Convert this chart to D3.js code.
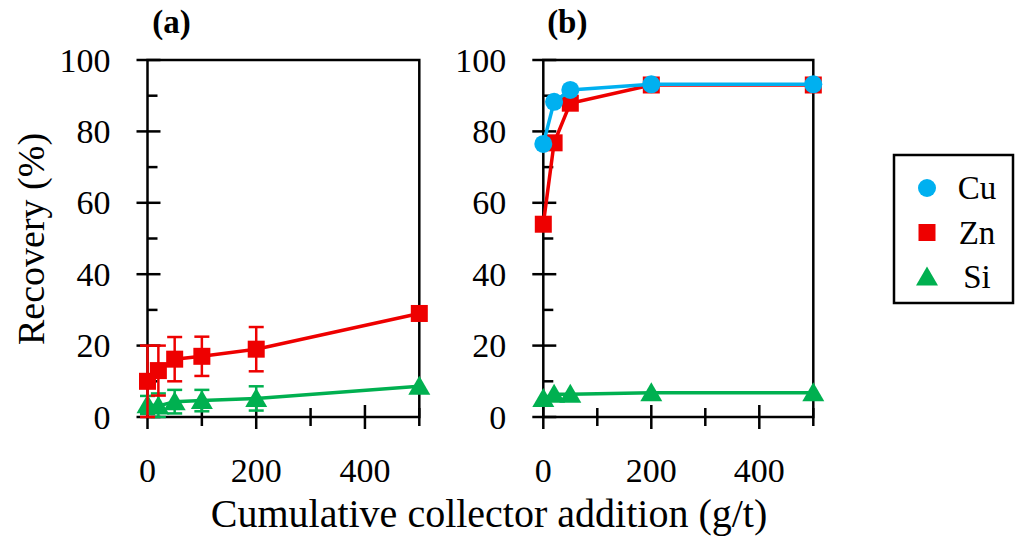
<!DOCTYPE html>
<html>
<head>
<meta charset="utf-8">
<script src="https://cdn.jsdelivr.net/npm/d3@7"></script>
<style>
html,body{margin:0;padding:0;background:#fff;}
svg{display:block;}
text{font-family:"Liberation Serif","Times New Roman",serif;fill:#000;}
</style>
</head>
<body>
<svg id="chart" width="1021" height="538"></svg>
<script>
// ---- data ----
const xA = [0, 20, 50, 100, 200, 500];
const znA = [10, 13, 16.2, 17, 19, 29];
const znErrA = [10, 7, 6.2, 5.5, 6.2, 0];
const siA = [3.4, 3.1, 4.3, 4.6, 5.2, 8.6];
const siErrA = [2.5, 3.5, 3.3, 3, 3.4, 0];

const xB = [0, 20, 50, 200, 500];
const cuB = [76.5, 88.3, 91.6, 93.2, 93.2];
const znB = [54, 76.8, 87.9, 93, 93];
const siB = [5.2, 6.4, 6.4, 6.8, 6.8];

const yTicks = [0, 20, 40, 60, 80, 100];
const yMinor = [10, 30, 50, 70, 90];
const xTicks = [0, 200, 400];
const xMinor = [100, 300, 500];
const legendItems = ["Cu", "Zn", "Si"];
const panelLabels = ["(a)", "(b)"];
const xTitle = "Cumulative collector addition (g/t)";
const yTitle = "Recovery (%)";

const colors = {Cu: "#00B0F0", Zn: "#EE0000", Si: "#00B050"};

const svg = d3.select("#chart");

const panels = [
  {left: 147.5, right: 419.3, label: panelLabels[0],
   series: [
     {name: "Si", x: xA, y: siA, err: siErrA},
     {name: "Zn", x: xA, y: znA, err: znErrA}
   ]},
  {left: 543.3, right: 813.3, label: panelLabels[1],
   series: [
     {name: "Si", x: xB, y: siB},
     {name: "Zn", x: xB, y: znB},
     {name: "Cu", x: xB, y: cuB}
   ]}
];

const plotTop = 60, plotBottom = 417;

function marker(g, name, cx, cy) {
  if (name === "Cu") {
    g.append("circle").attr("cx", cx).attr("cy", cy).attr("r", 9).attr("fill", colors.Cu);
  } else if (name === "Zn") {
    g.append("rect").attr("x", cx - 8.5).attr("y", cy - 8.5).attr("width", 17).attr("height", 17).attr("fill", colors.Zn);
  } else {
    g.append("path").attr("d", `M${cx},${cy-10.5}L${cx+11},${cy+8.5}L${cx-11},${cy+8.5}Z`).attr("fill", colors.Si);
  }
}

panels.forEach(p => {
  const x = d3.scaleLinear().domain([0, 500]).range([p.left, p.right]);
  const y = d3.scaleLinear().domain([0, 100]).range([plotBottom, plotTop]);
  const g = svg.append("g");

  // frame
  g.append("rect").attr("x", p.left).attr("y", plotTop).attr("width", p.right - p.left).attr("height", plotBottom - plotTop)
    .attr("fill", "none").attr("stroke", "#000").attr("stroke-width", 2.5);

  // y ticks
  yTicks.forEach(v => {
    g.append("line").attr("x1", p.left - 11).attr("x2", p.left + 13).attr("y1", y(v)).attr("y2", y(v))
      .attr("stroke", "#000").attr("stroke-width", 2.5);
    g.append("text").attr("x", p.left - 37).attr("y", y(v)).attr("dy", "0.34em")
      .attr("text-anchor", "end").attr("font-size", 34).text(v);
  });
  yMinor.forEach(v => {
    g.append("line").attr("x1", p.left).attr("x2", p.left + 10).attr("y1", y(v)).attr("y2", y(v))
      .attr("stroke", "#000").attr("stroke-width", 2.5);
  });
  // x ticks
  xTicks.forEach(v => {
    g.append("line").attr("x1", x(v)).attr("x2", x(v)).attr("y1", plotBottom - 12).attr("y2", plotBottom + 12)
      .attr("stroke", "#000").attr("stroke-width", 2.5);
    g.append("text").attr("x", x(v)).attr("y", 482).attr("text-anchor", "middle").attr("font-size", 34).text(v);
  });
  xMinor.forEach(v => {
    g.append("line").attr("x1", x(v)).attr("x2", x(v)).attr("y1", plotBottom - 9).attr("y2", plotBottom + 9)
      .attr("stroke", "#000").attr("stroke-width", 2.5);
  });

  // panel label
  g.append("text").attr("x", (p.left + 24)).attr("y", 33).attr("text-anchor", "middle")
    .attr("font-size", 33).attr("font-weight", "bold").text(p.label);

  // series
  const line = d3.line().x(d => x(d[0])).y(d => y(d[1]));
  p.series.forEach(s => {
    const pts = s.x.map((xv, i) => [xv, s.y[i], s.err ? s.err[i] : 0]);
    const sg = g.append("g");
    // error bars
    pts.forEach(d => {
      if (d[2] > 0) {
        const yt = y(d[1] + d[2]), yb = y(Math.max(0, d[1] - d[2]));
        sg.append("line").attr("x1", x(d[0])).attr("x2", x(d[0])).attr("y1", yt).attr("y2", yb)
          .attr("stroke", colors[s.name]).attr("stroke-width", 2.5);
        [yt, yb].forEach(yy => sg.append("line").attr("x1", x(d[0]) - 7.5).attr("x2", x(d[0]) + 7.5)
          .attr("y1", yy).attr("y2", yy).attr("stroke", colors[s.name]).attr("stroke-width", 2.5));
      }
    });
    sg.append("path").datum(pts).attr("d", line).attr("fill", "none")
      .attr("stroke", colors[s.name]).attr("stroke-width", 3.5);
    pts.forEach(d => marker(sg, s.name, x(d[0]), y(d[1])));
  });
});

// axis titles
svg.append("text").attr("x", 489).attr("y", 527).attr("text-anchor", "middle").attr("font-size", 40).text(xTitle);
svg.append("text").attr("transform", "translate(44,239) rotate(-90)").attr("text-anchor", "middle")
  .attr("font-size", 38).text(yTitle);

// legend
const lg = svg.append("g");
lg.append("rect").attr("x", 894).attr("y", 155).attr("width", 119).attr("height", 148)
  .attr("fill", "#fff").attr("stroke", "#000").attr("stroke-width", 2.5);
legendItems.forEach((name, i) => {
  const cy = 188 + i * 44.5;
  marker(lg, name, 927, cy);
  lg.append("text").attr("x", 977).attr("y", cy).attr("dy", "0.34em").attr("text-anchor", "middle")
    .attr("font-size", 33).text(name);
});
</script>
</body>
</html>
